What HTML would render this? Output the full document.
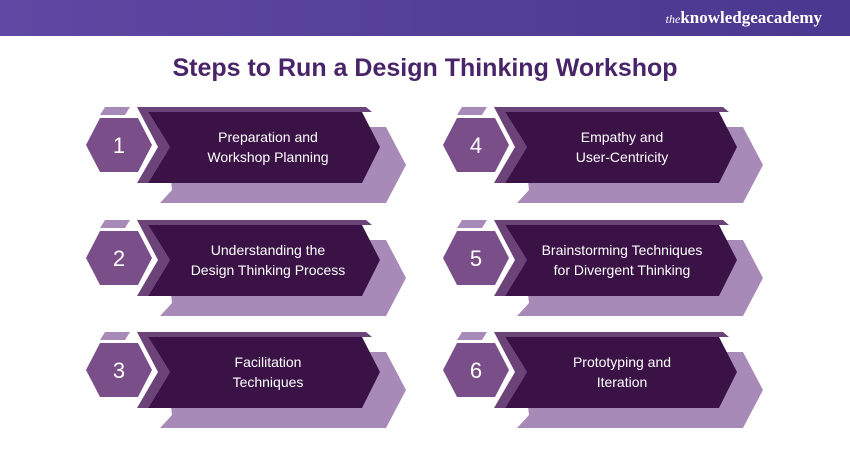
<!DOCTYPE html>
<html><head><meta charset="utf-8"><style>
body{margin:0;width:850px;height:450px;overflow:hidden;background:#fff;font-family:"Liberation Sans",sans-serif}
.hdr{position:absolute;left:0;top:0;width:850px;height:36px;background:linear-gradient(90deg,#5f48a3,#4a378f)}
.logo{position:absolute;right:28px;top:8px;color:#fff;font-family:"Liberation Serif",serif;font-size:17px;font-weight:bold}
.logo i{font-weight:normal;font-size:12px}
h1{position:absolute;top:54px;left:0;width:850px;margin:0;text-align:center;font-size:25px;color:#4a2468;font-weight:bold}
svg{position:absolute;left:0;top:0}
</style></head><body>
<div class="hdr"><div class="logo"><i>the</i>knowledge<span style="font-weight:bold">academy</span></div></div>
<h1>Steps to Run a Design Thinking Workshop</h1>
<svg width="850" height="450" font-family="Liberation Sans, sans-serif">
<defs>
<g id="c">
<polygon points="105,107 130,107 125,115 100,115" fill="#a88ab8"/>
<polygon points="165,127 386,127 406,165 386,203 160,203 172,190" fill="#a88ab8"/>
<polygon points="137,107 366,107 372,112 148,112 170,147 148,183 137,183 158,147" fill="#6b4378"/>
<polygon points="148,112 362,112 380,147 362,183 148,183 170,147" fill="#3a1246"/>
<polygon points="86,145 100,118 138,118 152,145 138,172 100,172" fill="#7a4e88"/>
</g>
</defs>
<use href="#c"/><use href="#c" y="113"/><use href="#c" y="225"/>
<use href="#c" x="357"/><use href="#c" x="357" y="113"/><use href="#c" x="357" y="225"/>
<g fill="#fff" font-size="22" text-anchor="middle">
<text x="119" y="153">1</text><text x="119" y="266">2</text><text x="119" y="378">3</text>
<text x="476" y="153">4</text><text x="476" y="266">5</text><text x="476" y="378">6</text>
</g>
<g fill="#fff" font-size="14" text-anchor="middle">
<text x="268" y="142">Preparation and</text><text x="268" y="162">Workshop Planning</text>
<text x="268" y="255">Understanding the</text><text x="268" y="275">Design Thinking Process</text>
<text x="268" y="367">Facilitation</text><text x="268" y="387">Techniques</text>
<text x="622" y="142">Empathy and</text><text x="622" y="162">User-Centricity</text>
<text x="622" y="255">Brainstorming Techniques</text><text x="622" y="275">for Divergent Thinking</text>
<text x="622" y="367">Prototyping and</text><text x="622" y="387">Iteration</text>
</g>
</svg>
</body></html>
